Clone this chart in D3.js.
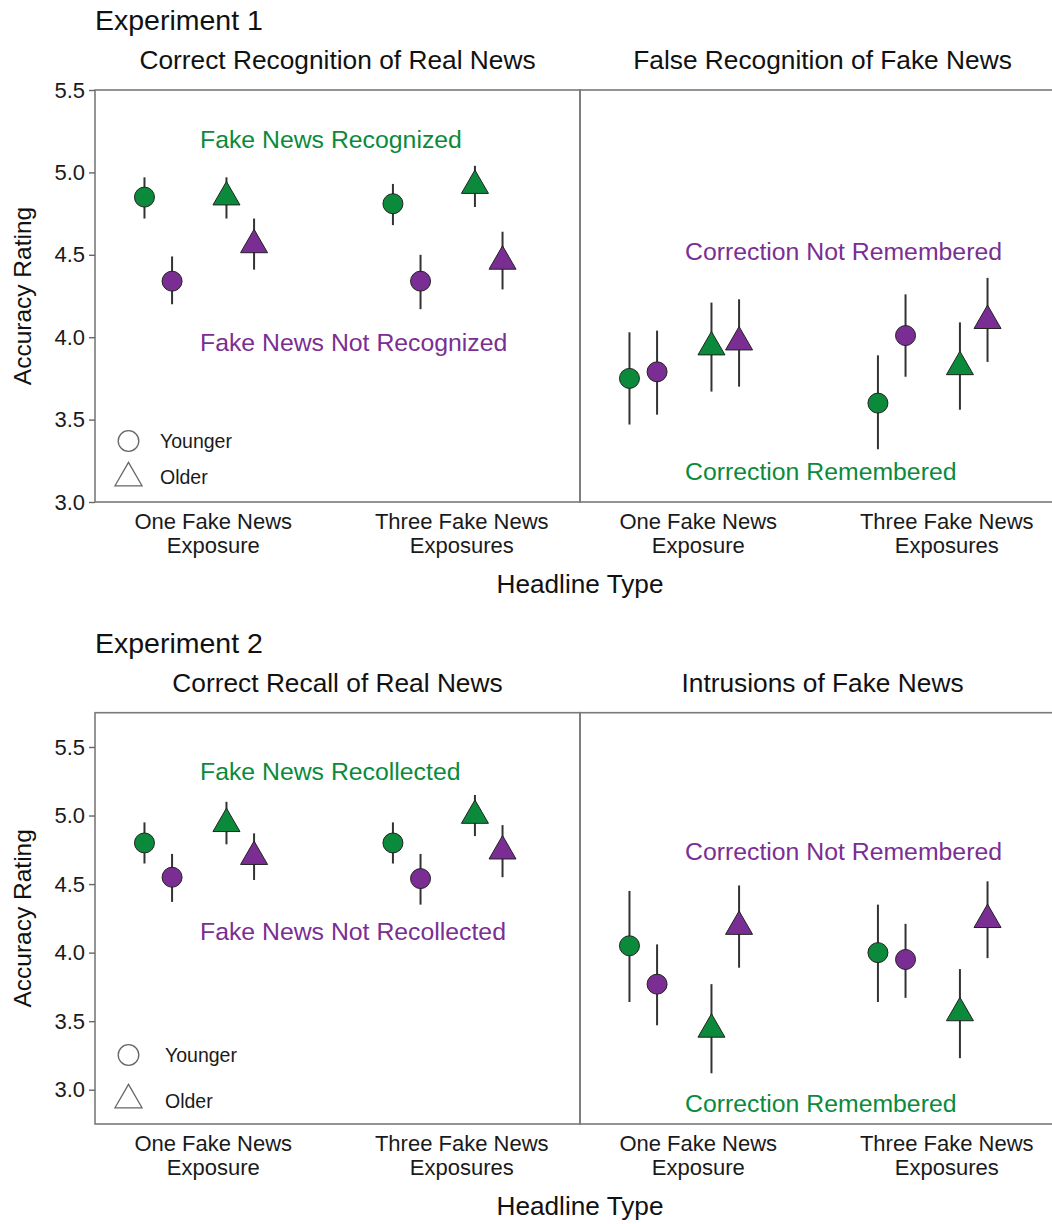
<!DOCTYPE html>
<html>
<head>
<meta charset="utf-8">
<script src="https://cdn.jsdelivr.net/npm/d3@7"></script>
<style>
  body { margin: 0; background: #fff; }
  svg { display: block; }
  text { font-family: "Liberation Sans", Arial, Helvetica, sans-serif; }
</style>
</head>
<body>
<svg id="chart" width="1052" height="1224"></svg>
<script>
// ---- data ---------------------------------------------------------------
const exposures = ["One Fake News Exposure", "Three Fake News Exposures"];
const exposureLines = [["One Fake News", "Exposure"], ["Three Fake News", "Exposures"]];
const ages = ["Younger", "Older"];
const memoryStates = ["remembered", "forgotten"];
const yTicks = [3.0, 3.5, 4.0, 4.5, 5.0, 5.5];

// each row: exposure, age group, memory state, mean rating, CI low, CI high
const exp1RealNews = [
  { exposure: exposures[0], age: "Younger", memory: "remembered", mean: 4.85, lo: 4.72, hi: 4.97 },
  { exposure: exposures[0], age: "Younger", memory: "forgotten",  mean: 4.34, lo: 4.20, hi: 4.49 },
  { exposure: exposures[0], age: "Older",   memory: "remembered", mean: 4.85, lo: 4.72, hi: 4.97 },
  { exposure: exposures[0], age: "Older",   memory: "forgotten",  mean: 4.56, lo: 4.41, hi: 4.72 },
  { exposure: exposures[1], age: "Younger", memory: "remembered", mean: 4.81, lo: 4.68, hi: 4.93 },
  { exposure: exposures[1], age: "Younger", memory: "forgotten",  mean: 4.34, lo: 4.17, hi: 4.50 },
  { exposure: exposures[1], age: "Older",   memory: "remembered", mean: 4.92, lo: 4.79, hi: 5.04 },
  { exposure: exposures[1], age: "Older",   memory: "forgotten",  mean: 4.46, lo: 4.29, hi: 4.64 }
];
const exp1FakeNews = [
  { exposure: exposures[0], age: "Younger", memory: "remembered", mean: 3.75, lo: 3.47, hi: 4.03 },
  { exposure: exposures[0], age: "Younger", memory: "forgotten",  mean: 3.79, lo: 3.53, hi: 4.04 },
  { exposure: exposures[0], age: "Older",   memory: "remembered", mean: 3.94, lo: 3.67, hi: 4.21 },
  { exposure: exposures[0], age: "Older",   memory: "forgotten",  mean: 3.97, lo: 3.70, hi: 4.23 },
  { exposure: exposures[1], age: "Younger", memory: "remembered", mean: 3.60, lo: 3.32, hi: 3.89 },
  { exposure: exposures[1], age: "Younger", memory: "forgotten",  mean: 4.01, lo: 3.76, hi: 4.26 },
  { exposure: exposures[1], age: "Older",   memory: "remembered", mean: 3.82, lo: 3.56, hi: 4.09 },
  { exposure: exposures[1], age: "Older",   memory: "forgotten",  mean: 4.10, lo: 3.85, hi: 4.36 }
];
const exp2RealNews = [
  { exposure: exposures[0], age: "Younger", memory: "remembered", mean: 4.80, lo: 4.65, hi: 4.95 },
  { exposure: exposures[0], age: "Younger", memory: "forgotten",  mean: 4.55, lo: 4.37, hi: 4.72 },
  { exposure: exposures[0], age: "Older",   memory: "remembered", mean: 4.94, lo: 4.79, hi: 5.10 },
  { exposure: exposures[0], age: "Older",   memory: "forgotten",  mean: 4.70, lo: 4.53, hi: 4.87 },
  { exposure: exposures[1], age: "Younger", memory: "remembered", mean: 4.80, lo: 4.65, hi: 4.95 },
  { exposure: exposures[1], age: "Younger", memory: "forgotten",  mean: 4.54, lo: 4.35, hi: 4.72 },
  { exposure: exposures[1], age: "Older",   memory: "remembered", mean: 5.00, lo: 4.85, hi: 5.15 },
  { exposure: exposures[1], age: "Older",   memory: "forgotten",  mean: 4.74, lo: 4.55, hi: 4.93 }
];
const exp2FakeNews = [
  { exposure: exposures[0], age: "Younger", memory: "remembered", mean: 4.05, lo: 3.64, hi: 4.45 },
  { exposure: exposures[0], age: "Younger", memory: "forgotten",  mean: 3.77, lo: 3.47, hi: 4.06 },
  { exposure: exposures[0], age: "Older",   memory: "remembered", mean: 3.44, lo: 3.12, hi: 3.77 },
  { exposure: exposures[0], age: "Older",   memory: "forgotten",  mean: 4.19, lo: 3.89, hi: 4.49 },
  { exposure: exposures[1], age: "Younger", memory: "remembered", mean: 4.00, lo: 3.64, hi: 4.35 },
  { exposure: exposures[1], age: "Younger", memory: "forgotten",  mean: 3.95, lo: 3.67, hi: 4.21 },
  { exposure: exposures[1], age: "Older",   memory: "remembered", mean: 3.56, lo: 3.23, hi: 3.88 },
  { exposure: exposures[1], age: "Older",   memory: "forgotten",  mean: 4.24, lo: 3.96, hi: 4.52 }
];

// ---- styling & layout ---------------------------------------------------
const colour = d3.scaleOrdinal().domain(memoryStates).range(["#0b8a3b", "#7a2e93"]);
const ageShift = d3.scaleOrdinal().domain(ages).range([-55, 27]);      // px offset of each age group
const memoryShift = d3.scaleOrdinal().domain(memoryStates).range([-13.8, 13.8]);

const plotLeft = 95, panelW = 485;
const svg = d3.select("#chart");

const experiments = [
  {
    title: "Experiment 1", top: 90, bottom: 502, domain: [3.0, 5.5],
    legend: { circleY: 441, triY: 478, textY: [448, 484], textX: 160 },
    panels: [
      { title: "Correct Recognition of Real News", rows: exp1RealNews,
        notes: [{ text: "Fake News Recognized", memory: "remembered", at: 5.148 },
                { text: "Fake News Not Recognized", memory: "forgotten", at: 3.918 }] },
      { title: "False Recognition of Fake News", rows: exp1FakeNews,
        notes: [{ text: "Correction Not Remembered", memory: "forgotten", at: 4.468 },
                { text: "Correction Remembered", memory: "remembered", at: 3.133 }] }
    ]
  },
  {
    title: "Experiment 2", top: 712.7, bottom: 1124, domain: [2.75, 5.75],
    legend: { circleY: 1055, triY: 1100, textY: [1062, 1108], textX: 165 },
    panels: [
      { title: "Correct Recall of Real News", rows: exp2RealNews,
        notes: [{ text: "Fake News Recollected", memory: "remembered", at: 5.258 },
                { text: "Fake News Not Recollected", memory: "forgotten", at: 4.092 }] },
      { title: "Intrusions of Fake News", rows: exp2FakeNews,
        notes: [{ text: "Correction Not Remembered", memory: "forgotten", at: 4.675 },
                { text: "Correction Remembered", memory: "remembered", at: 2.835 }] }
    ]
  }
];

const triangle = d3.symbol().type(d3.symbolTriangle).size(316);
const triangleLegend = d3.symbol().type(d3.symbolTriangle).size(316);

experiments.forEach(exp => {
  const g = svg.append("g");
  const y = d3.scaleLinear().domain(exp.domain).range([exp.bottom, exp.top]);

  g.append("text").attr("x", plotLeft).attr("y", exp.top - 60)
    .attr("font-size", 28.5).attr("fill", "#111").text(exp.title);

  exp.panels.forEach((panel, i) => {
    const x0 = plotLeft + i * panelW;
    const x = d3.scalePoint().domain(exposures).range([x0, x0 + panelW]).padding(0.476);
    const pg = g.append("g");

    pg.append("text").attr("x", x0 + panelW / 2).attr("y", exp.top - 20.7)
      .attr("text-anchor", "middle").attr("font-size", 26.3).attr("fill", "#111")
      .text(panel.title);

    pg.append("rect").attr("x", x0).attr("y", exp.top)
      .attr("width", panelW).attr("height", exp.bottom - exp.top)
      .attr("fill", "none").attr("stroke", "#7a7a7a").attr("stroke-width", 1.6);

    panel.notes.forEach(n => {
      pg.append("text").attr("x", x0 + 105).attr("y", y(n.at))
        .attr("font-size", 24.8).attr("fill", colour(n.memory)).text(n.text);
    });

    const px = d => x(d.exposure) + ageShift(d.age) + memoryShift(d.memory);

    pg.selectAll("line.ci").data(panel.rows).join("line")
      .attr("class", "ci")
      .attr("x1", px).attr("x2", px)
      .attr("y1", d => y(d.lo)).attr("y2", d => y(d.hi))
      .attr("stroke", "#333").attr("stroke-width", 2);

    pg.selectAll("circle.pt").data(panel.rows.filter(d => d.age === "Younger")).join("circle")
      .attr("class", "pt")
      .attr("cx", px).attr("cy", d => y(d.mean)).attr("r", 10)
      .attr("fill", d => colour(d.memory)).attr("stroke", "#222").attr("stroke-width", 1);

    pg.selectAll("path.pt").data(panel.rows.filter(d => d.age === "Older")).join("path")
      .attr("class", "pt")
      .attr("d", triangle)
      .attr("transform", d => `translate(${px(d)},${y(d.mean)})`)
      .attr("fill", d => colour(d.memory)).attr("stroke", "#222").attr("stroke-width", 1);

    exposures.forEach((e, k) => {
      const t = pg.append("text").attr("text-anchor", "middle")
        .attr("font-size", 22).attr("fill", "#1a1a1a");
      exposureLines[k].forEach((line, j) => {
        t.append("tspan").attr("x", x(e)).attr("y", exp.bottom + 27 + j * 24).text(line);
      });
    });
  });

  // y axis
  const axis = g.append("g").attr("transform", `translate(${plotLeft},0)`)
    .call(d3.axisLeft(y).tickValues(yTicks).tickFormat(d3.format(".1f")).tickSize(6).tickPadding(4));
  axis.select(".domain").remove();
  axis.selectAll(".tick line").attr("stroke", "#666").attr("stroke-width", 1.4);
  axis.selectAll(".tick text").attr("font-size", 22).attr("fill", "#1a1a1a")
    .attr("font-family", "'Liberation Sans', Arial, sans-serif");

  const midY = (exp.top + exp.bottom) / 2;
  g.append("text").attr("transform", `translate(31,${midY}) rotate(-90)`)
    .attr("text-anchor", "middle").attr("font-size", 24.5).attr("fill", "#111")
    .text("Accuracy Rating");

  g.append("text").attr("x", plotLeft + panelW).attr("y", exp.bottom + 91)
    .attr("text-anchor", "middle").attr("font-size", 26.2).attr("fill", "#111")
    .text("Headline Type");

  // shape legend
  const L = exp.legend;
  g.append("circle").attr("cx", 128.5).attr("cy", L.circleY).attr("r", 10.3)
    .attr("fill", "none").attr("stroke", "#666").attr("stroke-width", 1.3);
  g.append("path").attr("d", triangleLegend)
    .attr("transform", `translate(128.5,${L.triY})`)
    .attr("fill", "none").attr("stroke", "#666").attr("stroke-width", 1.3);
  ages.forEach((a, k) => {
    g.append("text").attr("x", L.textX).attr("y", L.textY[k])
      .attr("font-size", 19.5).attr("fill", "#1a1a1a").text(a);
  });
});
</script>
</body>
</html>
